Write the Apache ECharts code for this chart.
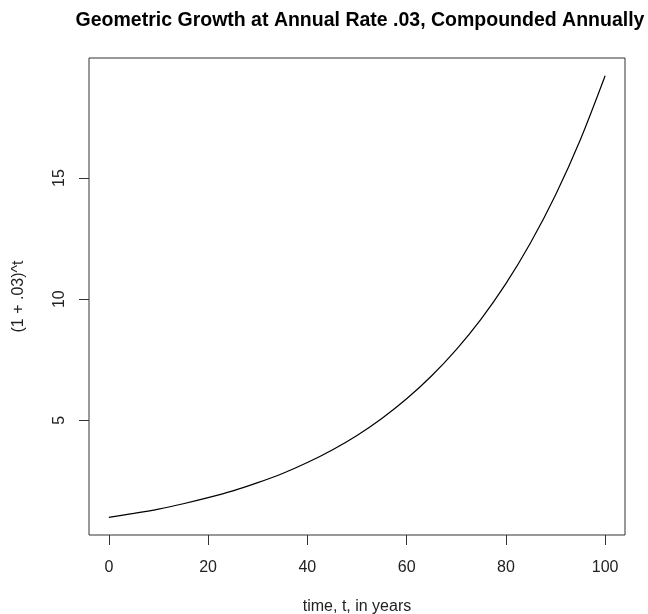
<!DOCTYPE html>
<html>
<head>
<meta charset="utf-8">
<script src="https://cdn.jsdelivr.net/npm/echarts@6/dist/echarts.min.js"></script>
<style>html,body{margin:0;padding:0;background:#fff;}#c{width:648px;height:614px;}</style>
</head>
<body>
<div id="c"></div>
<script>
const titleText = 'Geometric Growth at Annual Rate .03, Compounded Annually';
const xName = 'time, t, in years';
const yName = '(1 + .03)^t';
const years = [0, 5, 10, 15, 20, 25, 30, 35, 40, 45, 50, 55, 60, 65, 70, 75, 80, 85, 90, 95, 100];
const growth = [1.00, 1.16, 1.34, 1.56, 1.81, 2.09, 2.43, 2.81, 3.26, 3.78, 4.38, 5.08, 5.89, 6.83, 7.92, 9.18, 10.64, 12.34, 14.30, 16.58, 19.22];
const xTicks = [0, 20, 40, 60, 80, 100];
const yTicks = [5, 10, 15];

const FONT = 'Liberation Sans, Arial, sans-serif';
const chart = echarts.init(document.getElementById('c'), null, {renderer: 'canvas'});
chart.setOption({
  backgroundColor: '#ffffff',
  animation: false,
  title: {
    text: titleText,
    left: 355, top: 6, textAlign: 'center',
    textStyle: {fontFamily: FONT, fontWeight: 'bold', fontSize: 19.5, color: '#000'}
  },
  grid: {
    left: 89, right: 23, top: 58, bottom: 79,
    outerBoundsMode: 'none', containLabel: false,
    show: true, borderColor: '#333', borderWidth: 1, backgroundColor: 'transparent'
  },
  xAxis: {
    type: 'value', min: -4, max: 104,
    name: xName, nameLocation: 'middle', nameGap: 64,
    nameTextStyle: {fontFamily: FONT, fontSize: 16, color: '#222'},
    axisLine: {show: false, onZero: false},
    axisTick: {show: true, inside: false, length: 10, customValues: xTicks, lineStyle: {color: '#333'}},
    axisLabel: {customValues: xTicks, fontFamily: FONT, fontSize: 16, color: '#222', margin: 25},
    splitLine: {show: false}
  },
  yAxis: {
    type: 'value', min: 0.271, max: 19.95,
    name: yName, nameLocation: 'middle', nameGap: 62, nameRotate: 90,
    nameTextStyle: {fontFamily: FONT, fontSize: 16, color: '#222'},
    axisLine: {show: false, onZero: false},
    axisTick: {show: true, inside: false, length: 10, customValues: yTicks, lineStyle: {color: '#333'}},
    axisLabel: {customValues: yTicks, rotate: 90, fontFamily: FONT, fontSize: 16, color: '#222', margin: 21},
    splitLine: {show: false}
  },
  series: [{
    type: 'line',
    data: years.map((t, i) => [t, growth[i]]),
    smooth: 0.3,
    showSymbol: false,
    lineStyle: {color: '#000', width: 1.2}
  }]
});
</script>
</body>
</html>
